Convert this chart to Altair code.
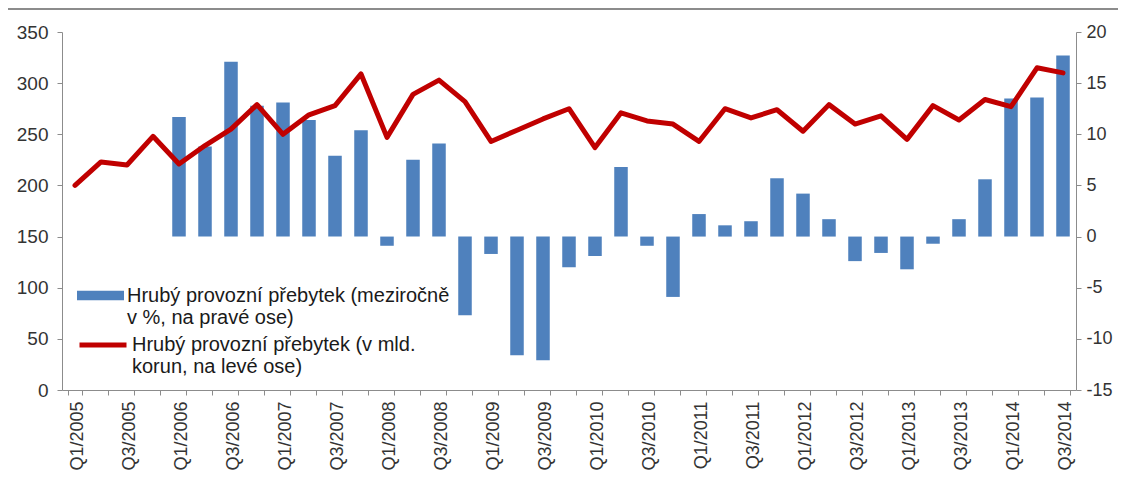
import altair as alt
import pandas as pd

QUARTERS = [
    "Q1/2005", "Q2/2005", "Q3/2005", "Q4/2005",
    "Q1/2006", "Q2/2006", "Q3/2006", "Q4/2006",
    "Q1/2007", "Q2/2007", "Q3/2007", "Q4/2007",
    "Q1/2008", "Q2/2008", "Q3/2008", "Q4/2008",
    "Q1/2009", "Q2/2009", "Q3/2009", "Q4/2009",
    "Q1/2010", "Q2/2010", "Q3/2010", "Q4/2010",
    "Q1/2011", "Q2/2011", "Q3/2011", "Q4/2011",
    "Q1/2012", "Q2/2012", "Q3/2012", "Q4/2012",
    "Q1/2013", "Q2/2013", "Q3/2013", "Q4/2013",
    "Q1/2014", "Q2/2014", "Q3/2014",
]

# Gross operating surplus, bn CZK (left axis)
LEVEL = [
    200, 223, 220, 248,
    221, 239, 255, 279,
    250, 269, 278, 309,
    247, 289, 303, 282,
    243, 254, 265, 275,
    237, 271, 263, 260,
    243, 275, 266, 274,
    253, 279, 260, 268,
    245, 278, 264, 284,
    277, 315, 310,
]

# Gross operating surplus, y/y % (right axis)
YOY = [
    None, None, None, None,
    11.7, 8.8, 17.1, 12.8,
    13.1, 11.4, 7.9, 10.4,
    -0.9, 7.5, 9.1, -7.7,
    -1.7, -11.6, -12.1, -3.0,
    -1.9, 6.8, -0.9, -5.9,
    2.2, 1.1, 1.5, 5.7,
    4.2, 1.7, -2.4, -1.6,
    -3.2, -0.7, 1.7, 5.6,
    13.5, 13.6, 17.7,
]

BAR_LABEL = ["Hrubý provozní přebytek (meziročně", "v %, na pravé ose)"]
LINE_LABEL = ["Hrubý provozní přebytek (v mld.", "korun, na levé ose)"]
LEFT_TICKS = [0, 50, 100, 150, 200, 250, 300, 350]
RIGHT_TICKS = [-15, -10, -5, 0, 5, 10, 15, 20]

FONT = "Liberation Sans"
AXIS_GRAY = "#8c8c8c"
TEXT = "#333333"

df = pd.DataFrame({
    "q": QUARTERS,
    "level": LEVEL,
    "yoy": YOY,
    "bar_s": "\n".join(BAR_LABEL),
    "line_s": "\n".join(LINE_LABEL),
})

x_enc = alt.X(
    "q:N",
    scale=alt.Scale(domain=QUARTERS, paddingInner=0.48, paddingOuter=0.24),
    axis=alt.Axis(
        title=None,
        labelAngle=-90,
        tickBand="extent",
        labelExpr="(slice(datum.label,0,2)=='Q1' || slice(datum.label,0,2)=='Q3') ? datum.label : ''",
        labelFont=FONT,
        labelFontSize=18,
        labelColor=TEXT,
        labelPadding=6,
        labelOffset=2,
        tickSize=5,
        tickColor=AXIS_GRAY,
        domainColor=AXIS_GRAY,
        labelOverlap=False,
    ),
)

common_legend = dict(
    orient="none",
    title=None,
    labelFont=FONT,
    labelFontSize=20,
    labelColor="#1a1a1a",
    labelLimit=500,
    labelExpr="split(datum.label, '\\n')",
    labelOffset=3,
)

bars = (
    alt.Chart(df)
    .transform_filter("isValid(datum.yoy)")
    .mark_bar()
    .encode(
        x=x_enc,
        y=alt.Y(
            "yoy:Q",
            scale=alt.Scale(domain=[-15, 20]),
            axis=alt.Axis(
                orient="right", title=None, values=RIGHT_TICKS, grid=False,
                labelExpr="datum.value < 0 ? '-' + abs(datum.value) : '' + datum.value",
                labelFont=FONT, labelFontSize=18, labelColor=TEXT,
                tickSize=5, tickColor=AXIS_GRAY, domainColor=AXIS_GRAY,
                labelPadding=5,
            ),
        ),
        fill=alt.Fill(
            "bar_s:N",
            scale=alt.Scale(range=["#4F81BD"]),
            legend=alt.Legend(
                legendX=15, legendY=240,
                symbolType="M-1,-0.2H1V0.2H-1Z", symbolSize=2209,
                symbolStrokeWidth=0,
                **common_legend,
            ),
        ),
    )
)

line = (
    alt.Chart(df)
    .mark_line(strokeWidth=5, strokeJoin="round", strokeCap="round")
    .encode(
        x=x_enc,
        y=alt.Y(
            "level:Q",
            scale=alt.Scale(domain=[0, 350]),
            axis=alt.Axis(
                orient="left", title=None, values=LEFT_TICKS, grid=False,
                labelFont=FONT, labelFontSize=19, labelColor=TEXT,
                tickSize=5, tickColor=AXIS_GRAY, domainColor=AXIS_GRAY,
                labelPadding=9,
            ),
        ),
        stroke=alt.Stroke(
            "line_s:N",
            scale=alt.Scale(range=["#C00000"]),
            legend=alt.Legend(
                legendX=15, legendY=287,
                symbolType="stroke", symbolSize=2209,
                symbolStrokeWidth=5,
                **common_legend,
            ),
        ),
    )
)

# decorative top frame line of the chart area
frame = alt.Chart(df).mark_rule(color="#8c8c8c", strokeWidth=2).encode(
    x=alt.value(-54), x2=alt.value(1060), y=alt.value(-23)
)

chart = (
    alt.layer(bars, line, frame)
    .resolve_scale(y="independent")
    .properties(
        width=1014,
        height=358,
        padding={"left": 54, "top": 24, "right": 42, "bottom": 83},
        autosize=alt.AutoSizeParams(type="none"),
    )
    .configure_view(stroke=None)
)

chart.save("out.html", embed_options={"renderer": "svg", "actions": False})
